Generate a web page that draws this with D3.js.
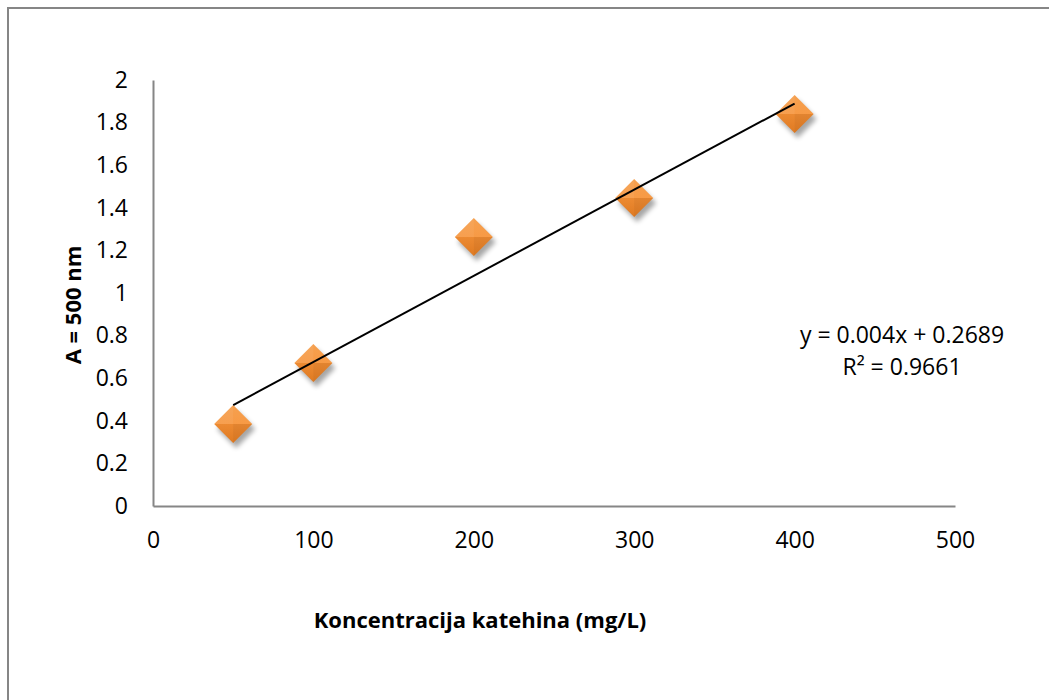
<!DOCTYPE html>
<html><head><meta charset="utf-8">
<script src="https://cdn.jsdelivr.net/npm/d3@7"></script>
<style>body{margin:0;background:#fff}svg{display:block}</style>
</head><body>
<svg id="c" width="1049" height="700"></svg>
<script>
const xValues = [50, 100, 200, 300, 400];
const yValues = [0.385, 0.671, 1.263, 1.446, 1.84];
const xTicks = [0, 100, 200, 300, 400, 500];
const yTicks = [0, 0.2, 0.4, 0.6, 0.8, 1, 1.2, 1.4, 1.6, 1.8, 2];
const xTitle = "Koncentracija katehina (mg/L)";
const yTitle = "A = 500 nm";
const eqLines = ["y = 0.004x + 0.2689", "R² = 0.9661"];

const svg = d3.select("#c");
const font = "'Open Sans', 'Noto Sans', sans-serif";
const defs = svg.append("defs");
const f = defs.append("filter").attr("id","sh").attr("x","-50%").attr("y","-50%").attr("width","200%").attr("height","200%");
f.append("feGaussianBlur").attr("stdDeviation",2.5);
const gTop = defs.append("linearGradient").attr("id","gt").attr("x1",0).attr("y1",0).attr("x2",0).attr("y2",1);
gTop.append("stop").attr("offset","0%").attr("stop-color","#F5A04F");
gTop.append("stop").attr("offset","100%").attr("stop-color","#F79A45");
const gBot = defs.append("linearGradient").attr("id","gb").attr("x1",0).attr("y1",0).attr("x2",0).attr("y2",1);
gBot.append("stop").attr("offset","0%").attr("stop-color","#EC8A32");
gBot.append("stop").attr("offset","100%").attr("stop-color","#DF7A22");

// outer border
svg.append("rect").attr("x",8).attr("y",8).attr("width",1060).attr("height",720)
  .attr("fill","none").attr("stroke","#868686").attr("stroke-width",2);

const x = d3.scaleLinear().domain([0,500]).range([153,955]);
const y = d3.scaleLinear().domain([0,2]).range([506,80]);

// axes
const xa = svg.append("g").attr("transform",`translate(0,${y(0)})`)
  .call(d3.axisBottom(x).tickValues(xTicks).tickSize(0).tickPadding(26).tickFormat(d3.format("d")));
const ya = svg.append("g").attr("transform",`translate(${x(0)},0)`)
  .call(d3.axisLeft(y).tickValues(yTicks).tickSize(0).tickPadding(25).tickFormat(d=>String(+d.toFixed(1))));
[xa,ya].forEach(g=>{
  g.select(".domain").attr("stroke","#868686").attr("stroke-width",2);
  g.selectAll("text").attr("font-family",font).attr("font-size",23).attr("fill","#000");
});

// regression
const n = xValues.length;
const mx = d3.mean(xValues), my = d3.mean(yValues);
let sxy=0,sxx=0;
for(let i=0;i<n;i++){sxy+=(xValues[i]-mx)*(yValues[i]-my);sxx+=(xValues[i]-mx)**2;}
const slope = sxy/sxx, icpt = my - slope*mx;
const x0 = d3.min(xValues), x1 = d3.max(xValues);

// markers
const pts = xValues.map((v,i)=>({x:v,y:yValues[i]}));
const r = 19;
const mk = svg.append("g").selectAll("g").data(pts).join("g")
  .attr("transform",d=>`translate(${x(d.x)},${y(d.y)})`);
mk.append("path").attr("d",`M0,${-r}L${r},0L0,${r}L${-r},0Z`).attr("fill","#000").attr("opacity",0.35)
  .attr("transform","translate(3,5)").attr("filter","url(#sh)");
mk.append("path").attr("d",`M0,${-r}L${r},0L${-r},0Z`).attr("fill","url(#gt)");
mk.append("path").attr("d",`M${-r},0L${r},0L0,${r}Z`).attr("fill","url(#gb)");
mk.append("path").attr("d",`M0,${-r}L${-r},0L0,0Z`).attr("fill","#fff").attr("opacity",0.06);
mk.append("path").attr("d",`M${r},0L0,${r}L0,0Z`).attr("fill","#000").attr("opacity",0.04);

// trendline
svg.append("line").attr("x1",x(x0)).attr("y1",y(icpt+slope*x0))
  .attr("x2",x(x1)).attr("y2",y(icpt+slope*x1)).attr("stroke","#000").attr("stroke-width",2);

// equation
svg.append("g").selectAll("text").data(eqLines).join("text")
  .attr("x",902).attr("y",(d,i)=>343+i*32).attr("text-anchor","middle")
  .attr("font-family",font).attr("font-size",23).text(d=>d);

// titles
svg.append("text").attr("x",480).attr("y",628).attr("text-anchor","middle")
  .attr("font-family",font).attr("font-size",22).attr("font-weight","bold").text(xTitle);
svg.append("text").attr("transform","translate(81,305) rotate(-90)").attr("text-anchor","middle")
  .attr("font-family",font).attr("font-size",22).attr("font-weight","bold").text(yTitle);
</script>
</body></html>
